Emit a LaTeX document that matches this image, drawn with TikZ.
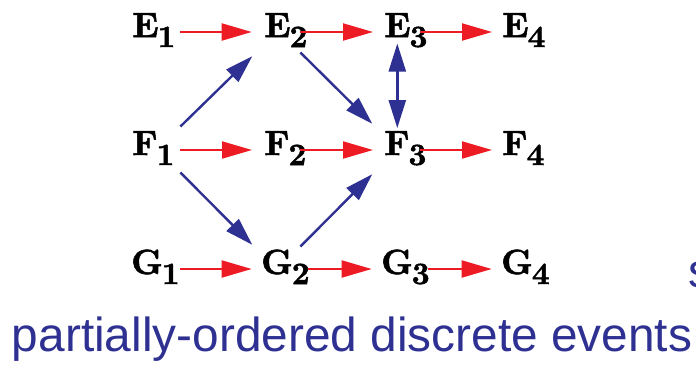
\documentclass[tikz,border=0pt]{standalone}
\usepackage{fontspec}
\newfontfamily\arialfont{Liberation Sans}
\newfontfamily\evfont{lmroman10-bold.otf}[RawFeature={embolden=1.6}]
\usetikzlibrary{arrows.meta,calc}
\definecolor{evred}{HTML}{ED1C24}
\definecolor{evblue}{HTML}{2E3192}
\newcommand{\evlabel}[2]{#1\kern-1pt\raisebox{-10pt}{\fontsize{31}{31}\selectfont#2}}
\tikzset{
  evnode/.style={inner sep=0pt, text height=26pt, text depth=16pt, text width=36pt,
    align=left, anchor=base west, font=\evfont\fontsize{35}{40}\selectfont},
  redarr/.style={draw=evred, line width=2pt, -{Triangle[length=30pt,width=17pt]}},
  bluearr/.style={draw=evblue, line width=2.4pt, -{Triangle[length=28pt,width=17pt]}},
  bluedbl/.style={draw=evblue, line width=2.4pt, {Triangle[length=28pt,width=17pt]}-{Triangle[length=28pt,width=17pt]}},
  caption/.style={inner sep=0pt, anchor=base west, text=evblue, font=\arialfont\fontsize{47.8}{50}\selectfont}
}
\begin{document}
\begin{tikzpicture}[x=1pt,y=-1pt]
\useasboundingbox (0,0) rectangle (696,365);
% nodes
\node[evnode] (E1) at (132,37) {\evlabel{E}{1}};
\node[evnode] (E2) at (264,37) {\evlabel{E}{2}};
\node[evnode] (E3) at (384,37) {\evlabel{E}{3}};
\node[evnode] (E4) at (502,37) {\evlabel{E}{4}};
\node[evnode] (F1) at (132,155) {\evlabel{F}{1}};
\node[evnode] (F2) at (264,155) {\evlabel{F}{2}};
\node[evnode] (F3) at (384,155) {\evlabel{F}{3}};
\node[evnode] (F4) at (502,155) {\evlabel{F}{4}};
\node[evnode] (G1) at (131,274) {\evlabel{G}{1}};
\node[evnode] (G2) at (261,274) {\evlabel{G}{2}};
\node[evnode] (G3) at (381,274) {\evlabel{G}{3}};
\node[evnode] (G4) at (501,274) {\evlabel{G}{4}};
% red arrows
\draw[redarr, shorten <=12pt, shorten >=12.3pt] (E1) -- (E2);
\draw[redarr, shorten <=0pt, shorten >=11pt] (E2) -- (E3);
\draw[redarr, shorten <=0pt, shorten >=10pt] (E3) -- (E4);
\draw[redarr, shorten <=12pt, shorten >=12pt] (F1) -- (F2);
\draw[redarr, shorten <=0pt, shorten >=11pt] (F2) -- (F3);
\draw[redarr, shorten <=0pt, shorten >=10pt] (F3) -- (F4);
\draw[redarr, shorten <=13pt, shorten >=9.3pt] (G1) -- (G2);
\draw[redarr, shorten <=11pt, shorten >=9.3pt] (G2) -- (G3);
\draw[redarr, shorten <=11pt, shorten >=9.3pt] (G3) -- (G4);
% blue arrows
\draw[bluearr] ($(F1.north east)+(12,-2.3)$) -- ($(E2.south west)+(-11.7,3)$);
\draw[bluearr] ($(E2.south east)+(0,-0.7)$) -- ($(F3.north west)+(-11.7,-5)$);
\draw[bluearr] ($(F1.south east)+(12,1.3)$) -- ($(G2.north west)+(-8.7,-3)$);
\draw[bluearr] ($(G2.north east)+(3,-1.3)$) -- ($(F3.south west)+(-11.7,3)$);
\draw[bluedbl] ($(E3.south west)+(13.3,-9.7)$) -- ($(F3.north west)+(13.3,-0.7)$);
% captions
\node[caption] (cap) at (11.8,351.7) {partially-ordered discrete events};
\node[caption] (cut) at (688.5,287) {s};
\end{tikzpicture}
\end{document}
